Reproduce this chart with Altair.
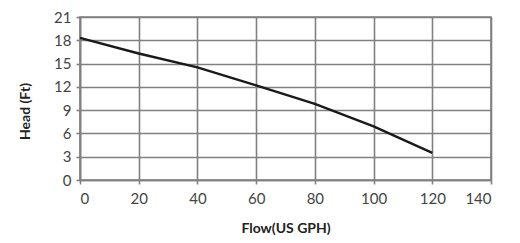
import altair as alt
import pandas as pd

flow = [0, 20, 40, 60, 80, 100, 120]
head = [18.3, 16.3, 14.5, 12.2, 9.8, 6.9, 3.5]
x_ticks = [0, 20, 40, 60, 80, 100, 120, 140]
y_ticks = [0, 3, 6, 9, 12, 15, 18, 21]

df = pd.DataFrame({"flow": flow, "head": head})

FONT = "Lato"
GRID = "#808080"

chart = alt.Chart(df).mark_line(color="#1a1a1a", strokeWidth=2.4).encode(
    x=alt.X("flow:Q", title="Flow(US GPH)",
            scale=alt.Scale(domain=[0, 140], nice=False),
            axis=alt.Axis(values=x_ticks, labelFontSize=15, titleFontSize=14,
                          titleFontWeight="bold", labelPadding=7, titlePadding=15,
                          labelColor="#444444", titleColor="#222222")),
    y=alt.Y("head:Q", title="Head (Ft)",
            scale=alt.Scale(domain=[0, 21], nice=False),
            axis=alt.Axis(values=y_ticks, labelFontSize=15, titleFontSize=14,
                          titleFontWeight="bold", labelPadding=5,
                          labelColor="#444444", titleColor="#222222",
                          titleX=-48, titleY=94)),
).properties(
    width=411, height=163,
    autosize=alt.AutoSizeParams(type="none"),
    padding={"left": 72, "top": 9, "right": 20, "bottom": 62},
    background="white",
).configure_axis(
    labelFont=FONT, titleFont=FONT,
    gridColor=GRID, gridWidth=1.6, gridOpacity=1,
    domainColor=GRID, domainWidth=1.6,
    tickColor=GRID, tickWidth=1.6, tickSize=4,
).configure_view(stroke=GRID, strokeWidth=1.6)

chart.save("out.html", embed_options={"renderer": "svg", "actions": False})
